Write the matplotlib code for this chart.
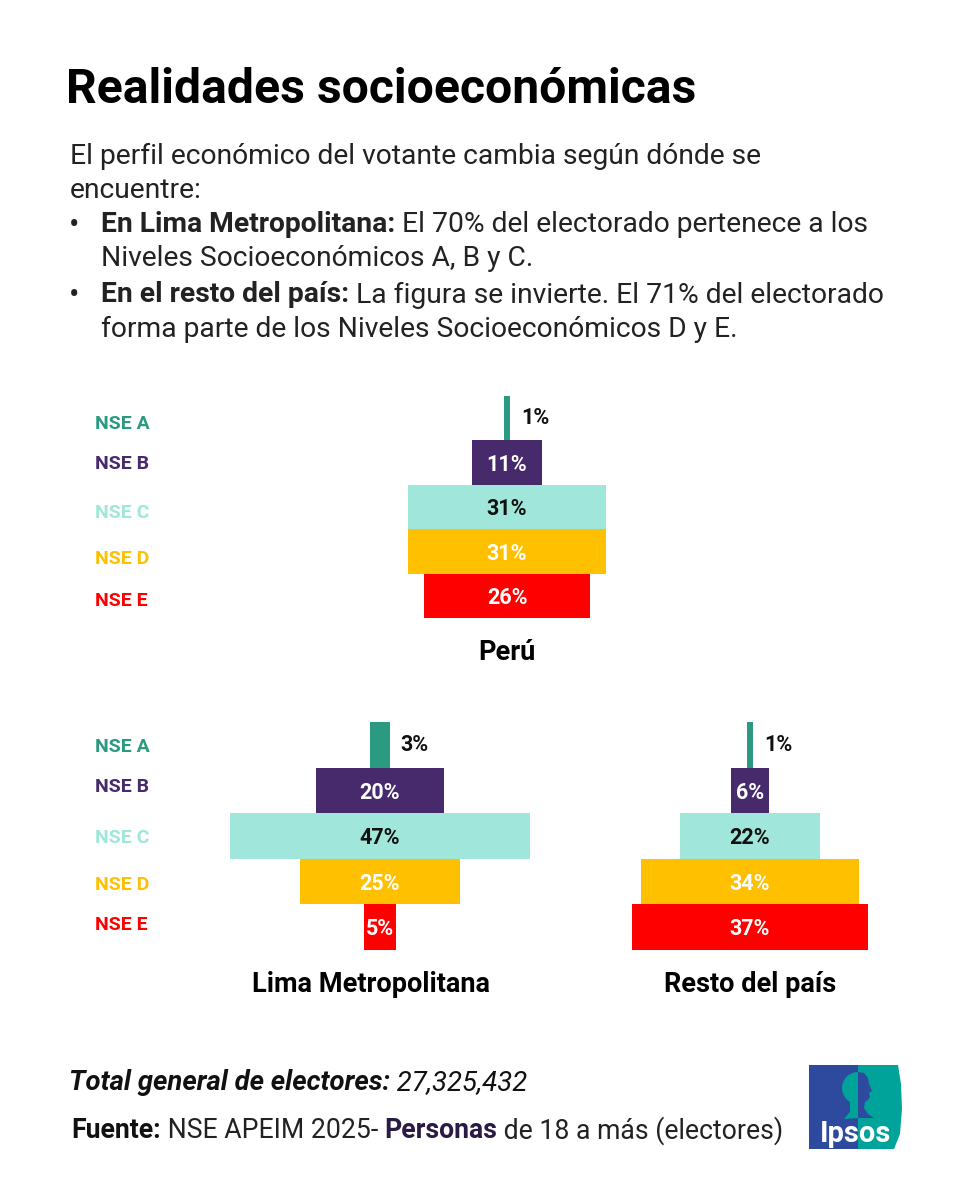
import matplotlib
matplotlib.use("Agg")
import matplotlib.pyplot as plt
from matplotlib.patches import Polygon, Wedge

# ---------------- data ----------------
categories = ["NSE A", "NSE B", "NSE C", "NSE D", "NSE E"]
peru = [1, 11, 31, 31, 26]
lima = [3, 20, 47, 25, 5]
resto = [1, 6, 22, 34, 37]
chart_titles = ["Perú", "Lima Metropolitana", "Resto del país"]
colors = ["#2A9A80", "#472A6B", "#A0E6DA", "#FFC000", "#FF0000"]
label_colors = ["#111111", "white", "#111111", "white", "white"]

W, H = 961, 1200
FONT = "Roboto"
plt.rcParams["font.family"] = [FONT, "DejaVu Sans"]

fig = plt.figure(figsize=(W / 100, H / 100), dpi=100)
fig.patch.set_facecolor("white")


def fx(x):
    return x / W


def fy(y):
    return 1 - y / H


renderer = fig.canvas.get_renderer()


def runs(x, y, parts, size):
    """Draw consecutive text runs starting at pixel (x, y)."""
    cx = x
    for txt, weight, style, color in parts:
        t = fig.text(fx(cx), fy(y), txt, fontsize=size, fontweight=weight,
                     fontstyle=style, color=color, ha="left", va="center",
                     family=[FONT, "DejaVu Sans"])
        bb = t.get_window_extent(renderer=renderer)
        cx += bb.width


# ---------------- header text ----------------
fig.text(fx(66), fy(90), "Realidades socioeconómicas", fontsize=34.7,
         fontweight="bold", color="black", ha="left", va="center")

BODY = 20.3
TXT = "#222222"
runs(70, 156, [("El perfil económico del votante cambia según dónde se", "normal", "normal", TXT)], BODY)
runs(70, 190, [("encuentre:", "normal", "normal", TXT)], BODY)
fig.text(fx(69), fy(226), "•", fontsize=BODY + 2, color=TXT, ha="left", va="center")
runs(101, 225, [("En Lima Metropolitana:", "bold", "normal", TXT),
                (" El 70% del electorado pertenece a los", "normal", "normal", TXT)], BODY)
runs(101, 259, [("Niveles Socioeconómicos A, B y C.", "normal", "normal", TXT)], BODY)
fig.text(fx(69), fy(296), "•", fontsize=BODY + 2, color=TXT, ha="left", va="center")
runs(101, 295, [("En el resto del país:", "bold", "normal", TXT),
                (" La figura se invierte. El 71% del electorado", "normal", "normal", TXT)], BODY)
runs(101, 329, [("forma parte de los Niveles Socioeconómicos D y E.", "normal", "normal", TXT)], BODY)


# ---------------- pyramids ----------------
PX_PER_PCT = 6.4


def pyramid(values, center_x, top_y, bottom_y, half_range, title, title_x, title_y):
    width_px = 2 * half_range * PX_PER_PCT
    left_px = center_x - width_px / 2
    ax = fig.add_axes([fx(left_px), fy(bottom_y), width_px / W, (bottom_y - top_y) / H])
    ax.set_xlim(-half_range, half_range)
    ax.set_ylim(len(values) - 0.5, -0.5)
    ax.axis("off")
    ax.patch.set_alpha(0)
    ys = list(range(len(values)))
    ax.barh(ys, values, left=[-v / 2 for v in values], height=1.0, color=colors,
            edgecolor="none")
    for i, v in enumerate(values):
        if i == 0:
            ax.text(v / 2 + 1.7, i, f"{v}%", ha="left", va="center",
                    fontsize=15.5, fontweight="bold", color="#111111")
        else:
            ax.text(0, i + 0.05, f"{v}%", ha="center", va="center",
                    fontsize=15.5, fontweight="bold", color=label_colors[i])
    fig.text(fx(title_x), fy(title_y), title, ha="center", va="center",
             fontsize=19.5, fontweight="bold", color="black")
    return ax


def row_labels(top_y, bottom_y, offsets):
    pitch = (bottom_y - top_y) / len(categories)
    for i, cat in enumerate(categories):
        y = top_y + pitch * (i + 0.5) + offsets[i]
        fig.text(fx(95), fy(y), cat, ha="left", va="center", fontsize=14,
                 fontweight="bold", color=colors[i])


pyramid(peru, 507, 396, 618, 40, chart_titles[0], 507, 653)
row_labels(396, 618, [6, 1, 6, 8, 5])

pyramid(lima, 380, 722, 950, 25, chart_titles[1], 371, 984)
pyramid(resto, 750, 722, 950, 20, chart_titles[2], 750, 984)
row_labels(722, 950, [2, -3, 2, 3, -2])


# ---------------- footer ----------------
FOOT = 19.2
runs(69, 1083, [("Total general de electores:", "bold", "italic", "#111111"),
                (" 27,325,432", "normal", "italic", "#111111")], 19.8)
runs(71, 1131, [("Fuente:", "bold", "normal", "#111111"),
                (" NSE APEIM 2025- ", "normal", "normal", "#222222"),
                ("Personas", "bold", "normal", "#2B1A45"),
                (" de 18 a más (electores)", "normal", "normal", "#222222")], FOOT)

# ---------------- Ipsos logo ----------------
BLUE = "#2E4A9E"
TEAL = "#00A39A"
lax = fig.add_axes([fx(808), fy(1152), 96 / W, 88 / H])
lax.set_xlim(0, 96)
lax.set_ylim(88, 0)
lax.axis("off")
lax.add_patch(Polygon([[1, 1], [50, 1], [50, 85], [1, 85]], closed=True,
                      color=BLUE, lw=0))
lax.add_patch(Polygon([[50, 1], [90, 1], [93, 20], [94, 45], [92, 70], [86, 85], [50, 85]],
                      closed=True, color=TEAL, lw=0))
# head silhouette: hair on the blue side (teal), face on the teal side (blue)
lax.add_patch(Wedge((50, 24), 16, 90, 270, color=TEAL, lw=0))
lax.add_patch(Polygon([[42, 36], [50, 36], [50, 54], [36, 55], [42, 48]], closed=True,
                      color=TEAL, lw=0))
lax.add_patch(Polygon([[50, 8], [56, 9], [60, 14], [61, 20], [64, 27], [61, 29],
                       [62, 33], [60, 36], [57, 38], [56, 44], [60, 50], [66, 54],
                       [50, 54]], closed=True, color=BLUE, lw=0))
lax.text(48, 70, "Ipsos", ha="center", va="center", fontsize=21,
         fontweight="bold", color="white")

fig.savefig("out.png", dpi=100, facecolor="white")
